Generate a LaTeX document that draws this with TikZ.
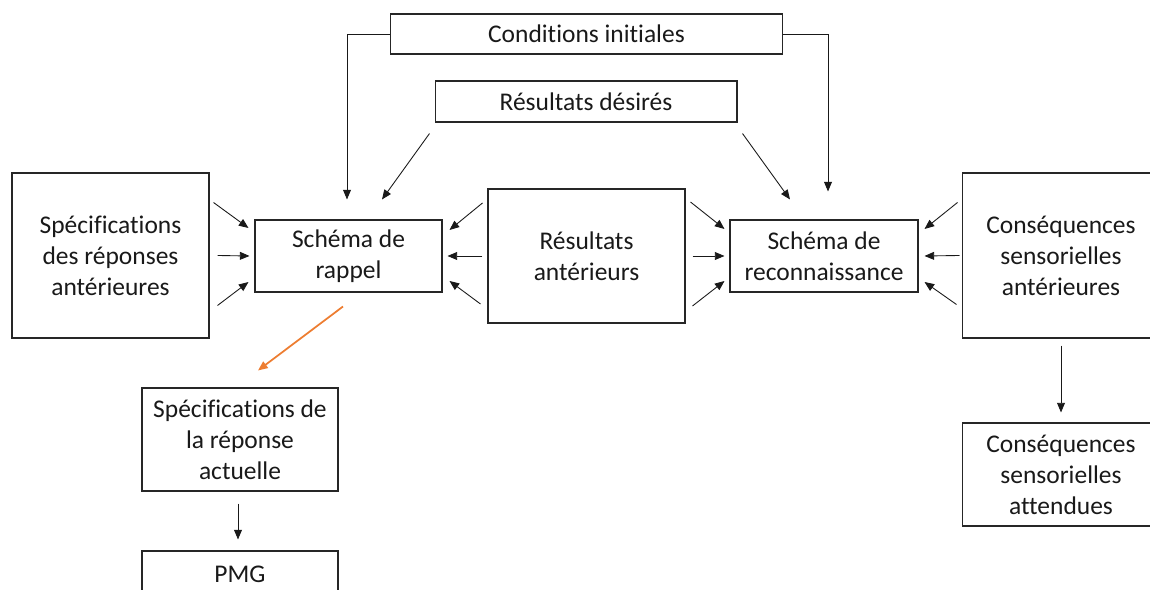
\documentclass[tikz,border=0pt]{standalone}
\usepackage{fontspec}
\setmainfont{Carlito}[Ligatures=NoCommon]
\usetikzlibrary{calc, positioning, arrows.meta}
\definecolor{officeorange}{HTML}{ED7D31}

\begin{document}
\begin{tikzpicture}[x=0.02cm, y=-0.02cm]

          % Setup the styles for the boxes and arrows
          \tikzset{box style/.style={draw=black!85,
                                     line width=0.6pt,
                                     align=center,
                                     inner sep=0pt,
                                     text=black!90,
                                     font=\fontsize{14.5}{17.6}\selectfont},
                   arrow style/.style={draw=black!90,
                                       line width=0.5pt,
                                       -{Triangle[length=5.5pt,width=4.5pt]}}}
          \useasboundingbox (0,0) rectangle (1150,590);
          \clip (0,0) rectangle (1150,590);
          % Draw the boxes
          \node[box style, minimum width=7.86cm, minimum height=0.80cm] at (586.5, 34)  (cond)   {Conditions initiales};
          \node[box style, minimum width=6.04cm, minimum height=0.82cm] at (586, 101.5) (desir)  {Résultats désirés};
          \node[box style, minimum width=3.94cm, minimum height=3.30cm] at (110.5, 255.5) (sra)  {Spécifications\\des réponses\\antérieures};
          \node[box style, minimum width=3.74cm, minimum height=1.44cm] at (348.5, 256) (rappel) {Schéma de\\rappel};
          \node[box style, minimum width=3.94cm, minimum height=2.68cm] at (586.5, 256) (resant) {Résultats\\antérieurs};
          \node[box style, minimum width=3.76cm, minimum height=1.44cm] at (824, 256)   (reco)   {Schéma de\\reconnaissance};
          \node[box style, minimum width=3.96cm, minimum height=3.30cm] at (1061, 255.5) (csa)   {Conséquences\\sensorielles\\antérieures};
          \node[box style, minimum width=3.96cm, minimum height=2.06cm] at (1061, 474.5) (cse)   {Conséquences\\sensorielles\\attendues};
          \node[box style, minimum width=3.92cm, minimum height=2.06cm] at (240, 439.5)  (spa)   {Spécifications de\\la réponse\\actuelle};
          \node[box style, minimum width=3.92cm, minimum height=0.92cm] at (240, 574)    (pmg)   {PMG};
          % Connect the boxes with arrows
          \draw[arrow style]
              ($(sra.east)+(4,-53)$)    -- ($(rappel.west)+(-6,-28)$);
          \draw[arrow style]
              ($(sra.east)+(8,0)$)      -- ($(rappel.west)+(-5,0)$);
          \draw[arrow style]
              ($(sra.east)+(8,50)$)     -- ($(rappel.west)+(-6,26)$);
          \draw[arrow style]
              ($(resant.west)+(-5,-53)$) -- ($(rappel.east)+(7,-26)$);
          \draw[arrow style]
              ($(resant.west)+(-5,0)$)  -- ($(rappel.east)+(5,0)$);
          \draw[arrow style]
              ($(resant.west)+(-7,48)$) -- ($(rappel.east)+(7,25)$);
          \draw[arrow style]
              ($(resant.east)+(5,-54)$) -- ($(reco.west)+(-5,-27)$);
          \draw[arrow style]
              ($(resant.east)+(7,0)$)   -- ($(reco.west)+(-5,0)$);
          \draw[arrow style]
              ($(resant.east)+(7,50)$)  -- ($(reco.west)+(-5,25)$);
          \draw[arrow style]
              ($(csa.west)+(-4,-53)$)   -- ($(reco.east)+(6,-27)$);
          \draw[arrow style]
              ($(csa.west)+(-2,0)$)     -- ($(reco.east)+(6,0)$);
          \draw[arrow style]
              ($(csa.west)+(-5,49)$)    -- ($(reco.east)+(6,26)$);
          \draw[arrow style]
              ($(desir.south west)+(-5,11)$) -- ($(rappel.north)+(33.5,-20)$);
          \draw[arrow style]
              ($(desir.south east)+(5,11)$)  -- ($(reco.north)+(-34,-20)$);
          \draw[arrow style]
              (cond.west) -| ($(rappel.north)+(-1.5,-20)$);
          \draw[arrow style]
              (cond.east) -| ($(reco.north)+(4,-28)$);
          \draw[arrow style]
              ($(spa.south)+(-2,12)$)  -- ($(pmg.north)+(-2,-11)$);
          \draw[arrow style]
              ($(csa.south)+(0,7)$)    -- ($(cse.north)+(0,-10)$);
          \draw[arrow style, draw=officeorange, fill=officeorange, line width=1pt]
              ($(rappel.south)+(-5.5,14)$) -- ($(spa.north)+(18,-17)$);
\end{tikzpicture}
\end{document}
